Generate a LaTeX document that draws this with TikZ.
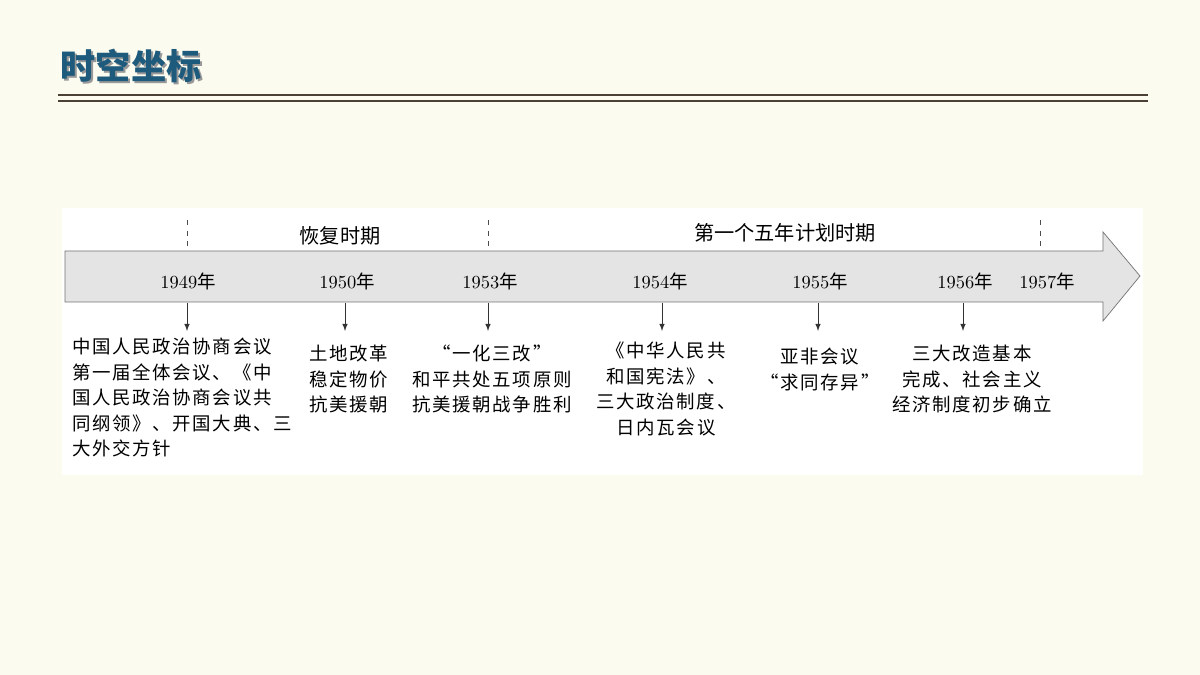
\documentclass[tikz,border=0pt]{standalone}
\usepackage{fontspec}
\newfontfamily\cjk{Noto Sans CJK SC}
\newfontfamily\cjkwide[LetterSpace=9]{Noto Sans CJK SC}
\usetikzlibrary{positioning}
\definecolor{paper}{HTML}{FCFBEF}
\definecolor{band}{HTML}{E4E4E4}
\definecolor{titleblue}{HTML}{1D5A7C}
\definecolor{rule}{HTML}{4A4033}
\tikzset{
  year/.style={font=\fontsize{10.5}{12}\selectfont},
  period/.style={font=\cjk\fontsize{11.5}{13}\selectfont},
  event/.style={font=\cjkwide\fontsize{10.5}{14.5}\selectfont, align=center, anchor=north},
  tick/.style={dashed, black!70},
  pointer/.style={-latex, black!80},
}
\begin{document}
\begin{tikzpicture}[x=0.02cm, y=-0.02cm]

    % background and title
    \fill[paper] (0,0) rectangle (1200,675);
    \useasboundingbox (0,0) rectangle (1200,675);
    \node[font=\cjk\bfseries\fontsize{20}{22}\selectfont, text=black!40] at (133,68) {时空坐标};
    \node (title) [font=\cjk\bfseries\fontsize{20}{22}\selectfont, text=titleblue] at (131,66) {时空坐标};
    \draw[rule, line width=1.6pt] (58,95) -- (1148,95);
    \draw[rule, line width=0.6pt] (58,101) -- (1148,101);

    % panel and time band
    \fill[white] (62,208) rectangle (1143,475);
    \draw[black!55, fill=band] (65,251) -- (1103,251) -- (1103,232) -- (1140,276)
        -- (1103,321) -- (1103,302) -- (65,302) -- cycle;

    % period dividers
    \foreach \x in {187,488,1040}
        \draw[tick] (\x,220) -- (\x,250);
    \node (p1) [period] at (340,236) {恢复时期};
    \node (p2) [period] at (785,233) {第一个五年计划时期};

    % years
    \node (y49) [year] at (188,281) {1949\cjk 年};
    \node (y50) [year] at (347,281) {1950\cjk 年};
    \node (y53) [year] at (490,281) {1953\cjk 年};
    \node (y54) [year] at (660,281) {1954\cjk 年};
    \node (y55) [year] at (820,281) {1955\cjk 年};
    \node (y56) [year] at (965,281) {1956\cjk 年};
    \node (y57) [year] at (1047,281) {1957\cjk 年};

    % events
    \node (e49) [event, align=left, anchor=north west] at (66,332) {中国人民政治协商会议\\第一届全体会议、《中\\国人民政治协商会议共\\同纲领》、开国大典、三\\大外交方针};
    \node (e50) [event] at (349,339) {土地改革\\稳定物价\\抗美援朝};
    \node (e53) [event] at (492,339) {“一化三改”\\和平共处五项原则\\抗美援朝战争胜利};
    \node (e54) [event] at (666,336) {《中华人民共\\和国宪法》、\\三大政治制度、\\日内瓦会议};
    \node (e55) [event] at (820,342) {亚非会议\\“求同存异”};
    \node (e56) [event] at (972,339) {三大改造基本\\完成、社会主义\\经济制度初步确立};

    % pointers
    \foreach \x/\e in {187/e49,345/e50,488/e53,662/e54,818/e55,963/e56}
        \draw[pointer] (\x,303) -- (\x,331);

\end{tikzpicture}
\end{document}
